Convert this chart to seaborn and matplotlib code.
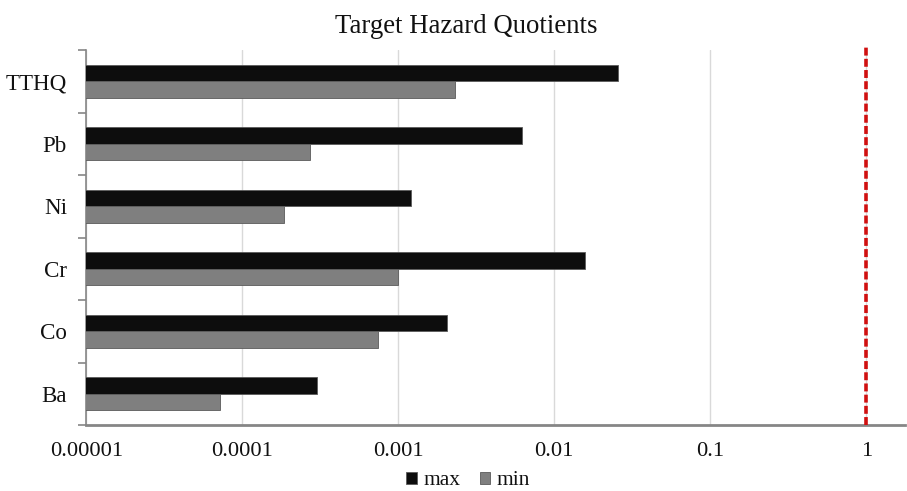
import matplotlib
matplotlib.use("Agg")
import matplotlib.pyplot as plt
import seaborn as sns
import pandas as pd

categories = ["TTHQ", "Pb", "Ni", "Cr", "Co", "Ba"]
max_values = [0.0255, 0.00624, 0.0012, 0.0157, 0.00206, 0.00030]
min_values = [0.0023, 0.000273, 0.000186, 0.0010, 0.000745, 0.0000723]
series_names = ["max", "min"]
xtick_values = [0.00001, 0.0001, 0.001, 0.01, 0.1, 1]
xtick_labels = ["0.00001", "0.0001", "0.001", "0.01", "0.1", "1"]

df = pd.DataFrame({
    "cat": categories * 2,
    "value": max_values + min_values,
    "series": [series_names[0]] * len(categories) + [series_names[1]] * len(categories),
})

sns.set_style("white")
plt.rcParams["font.family"] = ["Liberation Serif", "DejaVu Serif"]
plt.rcParams["text.color"] = "#111111"
plt.rcParams["xtick.labelcolor"] = "#111111"
plt.rcParams["ytick.labelcolor"] = "#111111"

fig = plt.figure(figsize=(9.07, 4.91), dpi=100)
ax = fig.add_axes([0.0952, 0.1344, 0.9025, 0.7637])

sns.barplot(data=df, x="value", y="cat", hue="series", order=categories,
            hue_order=series_names, palette=["#0d0d0d", "#7f7f7f"],
            orient="h", width=0.53, gap=0, ax=ax,
            edgecolor="#5a5a5a", linewidth=0.6, legend=True, zorder=3)
ax.set_xscale("log")

ax.set_xlim(1e-5, 1.77)
ax.set_ylim(len(categories) - 0.5, -0.5)
ax.set_xticks(xtick_values)
ax.set_xticklabels(xtick_labels, fontsize=16.2, color="#111111")
ax.minorticks_off()
ax.set_xlabel("")
ax.set_ylabel("")
ax.set_yticks(range(len(categories)))
ax.set_yticklabels(categories, fontsize=16.6, color="#111111")
ax.tick_params(axis="y", length=0, pad=14)
ax.tick_params(axis="x", length=0, pad=12)
# boundary ticks on y
ax.set_yticks([i - 0.5 for i in range(len(categories) + 1)], minor=True)
ax.tick_params(axis="y", which="minor", length=6, width=1.2, color="#868686", direction="out", left=True)

ax.grid(axis="x", color="#d9d9d9", linewidth=1.0, zorder=0)
ax.grid(axis="y", visible=False)
for s in ["top", "right"]:
    ax.spines[s].set_visible(False)
ax.spines["left"].set_color("#868686")
ax.spines["left"].set_linewidth(1.2)
ax.spines["bottom"].set_color("#868686")
ax.spines["bottom"].set_linewidth(2.0)

ax.axvline(1, ymin=0, ymax=1.009, color="#d01010", linestyle=(0, (2.2, 0.9)),
           linewidth=2.6, zorder=4, clip_on=False)

ax.set_title("Target Hazard Quotients", fontsize=19.3, pad=12, x=0.464, color="#111111")

handles, labels = ax.get_legend_handles_labels()
ax.get_legend().remove()
fig.legend(handles, labels, loc="lower center", bbox_to_anchor=(0.516, -0.038), ncol=2,
           frameon=False, fontsize=15.5, handlelength=0.5, handleheight=0.5,
           handletextpad=0.3, columnspacing=0.9, labelcolor="#111111")

fig.savefig("out.png", dpi=100)
